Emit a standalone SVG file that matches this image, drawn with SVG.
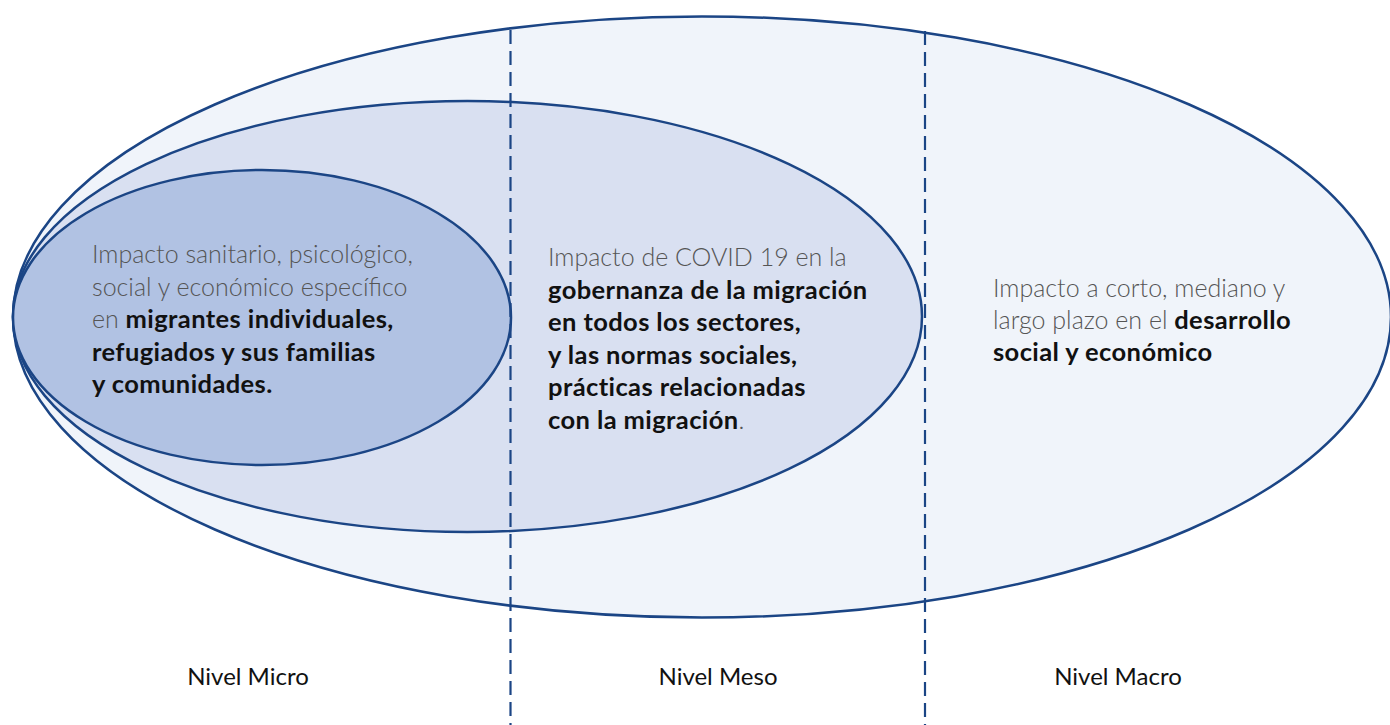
<svg xmlns="http://www.w3.org/2000/svg" width="1390" height="725" viewBox="0 0 1390 725">
<style>
.el{stroke:#1b4585;stroke-width:2.5}
.dash{stroke:#1b4585;stroke-width:2.2;stroke-dasharray:14 7;fill:none}
.t{font-family:Lato,"Open Sans",sans-serif;font-size:25px}
.l{font-weight:300;fill:#555}
.b{font-weight:700;fill:#111;font-size:25.5px;letter-spacing:0.4px}
.lab{font-family:Lato,"Open Sans",sans-serif;font-size:24px;fill:#111;text-anchor:middle}
</style>
<rect width="1390" height="725" fill="#fff"/>
<g id="macro">
<ellipse class="el" cx="702" cy="317" rx="689" ry="300.5" fill="#f0f4fa"/>
</g>
<g id="meso">
<ellipse class="el" cx="467.5" cy="316.5" rx="454.5" ry="215.5" fill="#d9e0f1"/>
</g>
<g id="micro">
<ellipse class="el" cx="262" cy="317.5" rx="249" ry="147.5" fill="#b1c2e3"/>
</g>
<g id="connectors">
<line class="dash" x1="510.5" y1="30" x2="510.5" y2="725"/>
<line class="dash" x1="925" y1="31" x2="925" y2="725"/>
</g>
<g id="micro-text">
<text class="t"><tspan class="l" x="92" y="263">Impacto sanitario, psicológico,</tspan><tspan class="l" x="92" y="295.5">social y económico específico</tspan><tspan class="l" x="92" y="328">en </tspan><tspan class="b">migrantes individuales,</tspan><tspan class="b" x="92" y="360.5">refugiados y sus familias</tspan><tspan class="b" x="92" y="393">y comunidades.</tspan></text>
</g>
<g id="meso-text">
<text class="t"><tspan class="l" x="548" y="266">Impacto de COVID 19 en la</tspan><tspan class="b" x="548" y="298.5">gobernanza de la migración</tspan><tspan class="b" x="548" y="331">en todos los sectores,</tspan><tspan class="b" x="548" y="363.5">y las normas sociales,</tspan><tspan class="b" x="548" y="396">prácticas relacionadas</tspan><tspan class="b" x="548" y="428.5">con la migración</tspan><tspan class="l">.</tspan></text>
</g>
<g id="macro-text">
<text class="t"><tspan class="l" x="993" y="297">Impacto a corto, mediano y</tspan><tspan class="l" x="993" y="329">largo plazo en el </tspan><tspan class="b">desarrollo</tspan><tspan class="b" x="993" y="361">social y económico</tspan></text>
</g>
<g id="labels">
<text class="lab" x="248" y="685">Nivel Micro</text>
<text class="lab" x="718" y="685">Nivel Meso</text>
<text class="lab" x="1118" y="685">Nivel Macro</text>
</g>
</svg>
